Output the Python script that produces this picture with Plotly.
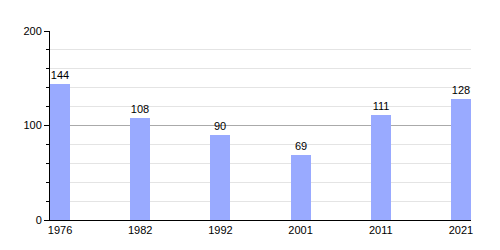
import plotly.graph_objects as go

years = ["1976", "1982", "1992", "2001", "2011", "2021"]
values = [144, 108, 90, 69, 111, 128]

fig = go.Figure(go.Bar(
    x=years, y=values, width=0.25,
    marker=dict(color="#99aaff", line=dict(width=0)),
    text=[str(v) for v in values], textposition="outside",
    textfont=dict(family="Liberation Sans, Arial", size=11, color="black"),
    cliponaxis=False,
))

fig.update_layout(
    width=500, height=250,
    margin=dict(l=50, r=29, t=31, b=30),
    paper_bgcolor="white", plot_bgcolor="white",
    font=dict(family="Liberation Sans, Arial", size=11, color="black"),
    showlegend=False,
    bargap=0,
)
fig.update_xaxes(
    type="category", range=[-0.125, 5.125],
    showline=True, linecolor="black", linewidth=1,
    ticks="", showgrid=False, tickfont=dict(size=11),
)
fig.update_yaxes(
    range=[0, 200], tickvals=[0, 100, 200],
    showline=True, linecolor="black", linewidth=1,
    ticks="outside", ticklen=5, tickcolor="black",
    showgrid=True, gridcolor="#aaaaaa", gridwidth=1,
    zeroline=False,
    minor=dict(dtick=20, ticks="outside", ticklen=3, tickcolor="black",
               showgrid=True, gridcolor="#e4e4e4", gridwidth=1),
    tickfont=dict(size=11),
)

fig.write_html("out.html")
